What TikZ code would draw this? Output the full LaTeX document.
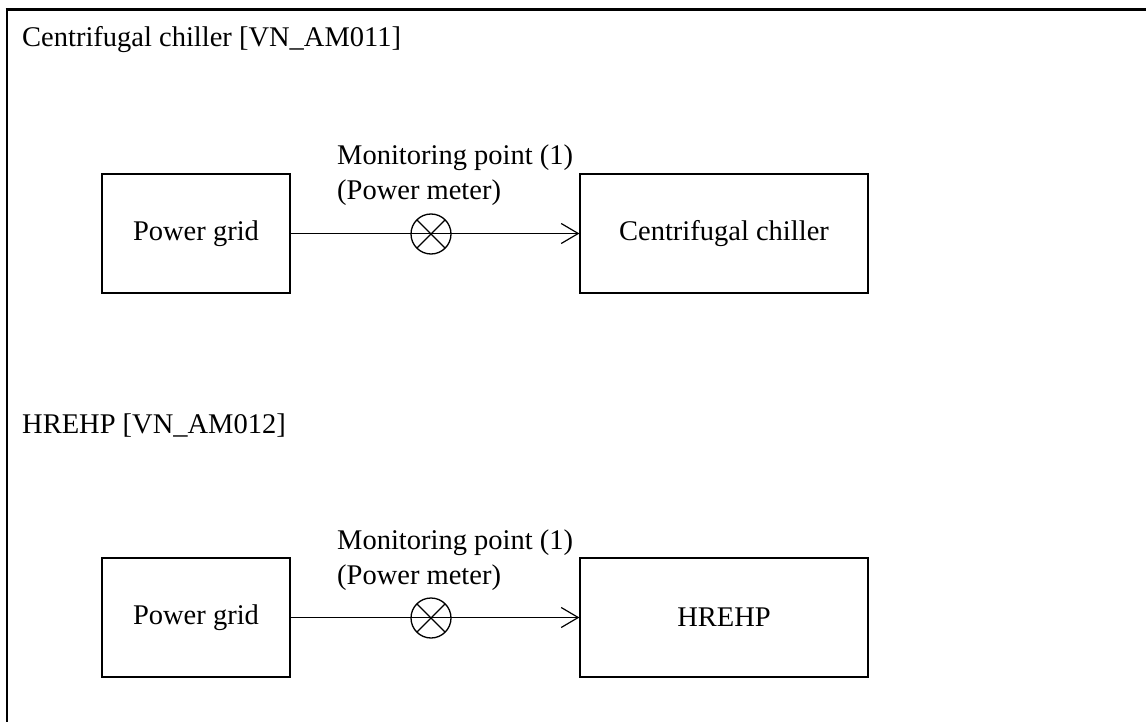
\documentclass[tikz,border=0pt]{standalone}
\usepackage{fontspec}
\setmainfont{Liberation Serif}
\usetikzlibrary{arrows.meta}
\begin{document}
\begin{tikzpicture}[x=1pt,y=-1pt,
  every node/.style={font=\fontsize{28.5}{34}\selectfont, inner sep=0pt},
  blk/.style={draw, line width=1.2pt, minimum height=119pt},
  meter/.style={draw, circle, line width=1.3pt, minimum size=40pt,
    path picture={\draw[line width=1.3pt]
      (path picture bounding box.north west) -- (path picture bounding box.south east)
      (path picture bounding box.north east) -- (path picture bounding box.south west);}},
  flow/.style={line width=1.2pt, -{Straight Barb[length=17pt,width=20pt,line width=1.2pt]}},
  lbl/.style={anchor=base west}]
\useasboundingbox (0,0) rectangle (1146,722);
% frame (cropped table cell)
\draw[line width=2.5pt] (5.5,9.5) -- (1146,9.5);
\draw[line width=2pt] (7,8.5) -- (7,722);

% section 1
\node[lbl] (t1) at (22,47) {Centrifugal chiller [VN\_AM011]};
\node[blk, minimum width=188pt] (g1) at (196,233.5) {Power grid};
\node[blk, minimum width=288pt] (c1) at (724,233.5) {Centrifugal chiller};
\draw[flow] (g1.east) -- (c1.west);
\node[meter] (m1) at (431,234) {};
\node[lbl] (l1a) at (337,165) {Monitoring point (1)};
\node[lbl] (l1b) at (337,200) {(Power meter)};

% section 2
\node[lbl] (t2) at (22,433) {HREHP [VN\_AM012]};
\node[blk, minimum width=188pt] (g2) at (196,617.5) {Power grid};
\node[blk, minimum width=288pt] (c2) at (724,617.5) {HREHP};
\draw[flow] (g2.east) -- (c2.west);
\node[meter] (m2) at (431,618) {};
\node[lbl] (l2a) at (337,549) {Monitoring point (1)};
\node[lbl] (l2b) at (337,584) {(Power meter)};
\end{tikzpicture}
\end{document}
